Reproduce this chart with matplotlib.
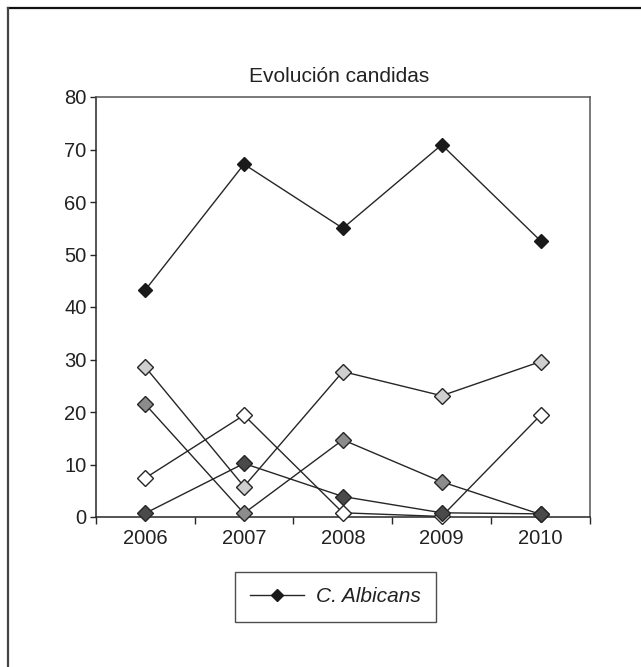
import matplotlib
matplotlib.use("Agg")
import matplotlib.pyplot as plt
from matplotlib.lines import Line2D
import numpy as np

plt.rcParams['font.family'] = ['Liberation Sans', 'DejaVu Sans']

years = ["2006", "2007", "2008", "2009", "2010"]
c_albicans = [43.2, 67.2, 55.0, 70.9, 52.6]
serie_gris_claro = [28.6, 5.8, 27.7, 23.1, 29.6]
serie_gris_medio = [21.5, 0.7, 14.7, 6.7, 0.5]
serie_blanca = [7.4, 19.4, 0.8, 0.1, 19.4]
serie_gris_oscuro = [0.7, 10.2, 3.9, 0.8, 0.6]
yticks = [0, 10, 20, 30, 40, 50, 60, 70, 80]

W, H = 641, 667
fig = plt.figure(figsize=(W / 100, H / 100), dpi=100)
fig.patch.set_facecolor('white')

# outer frame (top and left edges visible)
fig.add_artist(Line2D([8 / W, 1.0], [1 - 8 / H, 1 - 8 / H], transform=fig.transFigure,
                      color='#111111', lw=1.6))
fig.add_artist(Line2D([8 / W, 8 / W], [1 - 8 / H, 0.0], transform=fig.transFigure,
                      color='#444444', lw=1.6))

ax = fig.add_axes([95.7 / W, 1 - 517 / H, (590 - 95.7) / W, (517 - 97) / H])
x = np.arange(len(years))

ink = '#262626'
series = [
    (serie_blanca, 'white'),
    (serie_gris_claro, '#cfcfcf'),
    (serie_gris_medio, '#8c8c8c'),
    (serie_gris_oscuro, '#4a4a4a'),
]
for vals, fc in series:
    ax.plot(x, vals, color=ink, lw=1.0, marker='D', markersize=8,
            markerfacecolor=fc, markeredgecolor=ink, markeredgewidth=1.0,
            clip_on=False, zorder=3)
ax.plot(x, c_albicans, color=ink, lw=1.0, marker='D', markersize=7.5,
        markerfacecolor='#1a1a1a', markeredgecolor='#1a1a1a', clip_on=False, zorder=4)

ax.set_xlim(-0.5, len(years) - 0.5)
ax.set_ylim(0, 80)
ax.set_yticks(yticks)
ax.set_yticklabels([str(v) for v in yticks])
ax.set_xticks(np.arange(-0.5, len(years), 1.0))
ax.set_xticklabels([])
ax.set_xticks(x, minor=True)
ax.set_xticklabels(years, minor=True)
ax.tick_params(axis='x', which='major', direction='out', length=5, width=1, color=ink)
ax.tick_params(axis='x', which='minor', length=0, pad=9, labelsize=14.5, labelcolor='#222222')
ax.tick_params(axis='y', direction='out', length=4.5, width=1, color=ink, pad=2,
               labelsize=14.5, labelcolor='#222222')
for s in ['left', 'bottom']:
    ax.spines[s].set_color(ink)
    ax.spines[s].set_linewidth(1.1)
for s in ['top', 'right']:
    ax.spines[s].set_color('#555555')
    ax.spines[s].set_linewidth(1.1)

fig.text(339 / W, 1 - 76 / H, "Evolución candidas", ha='center', va='center',
         fontsize=15, color='#222222')

handle = Line2D([], [], color=ink, lw=1.0, marker='D', markersize=6.5,
                markerfacecolor='#1a1a1a', markeredgecolor='#1a1a1a')
leg = fig.legend([handle], ["C. Albicans"], loc='center',
                 bbox_to_anchor=(335.5 / W, 1 - 597 / H),
                 fancybox=False, frameon=True, handlelength=2.6, handletextpad=0.55,
                 borderpad=0.75, borderaxespad=0,
                 prop={'style': 'italic', 'size': 15})
leg.get_frame().set_edgecolor('#222222')
leg.get_frame().set_linewidth(1.0)
for t in leg.get_texts():
    t.set_color('#222222')

fig.savefig('out.png', dpi=100)
